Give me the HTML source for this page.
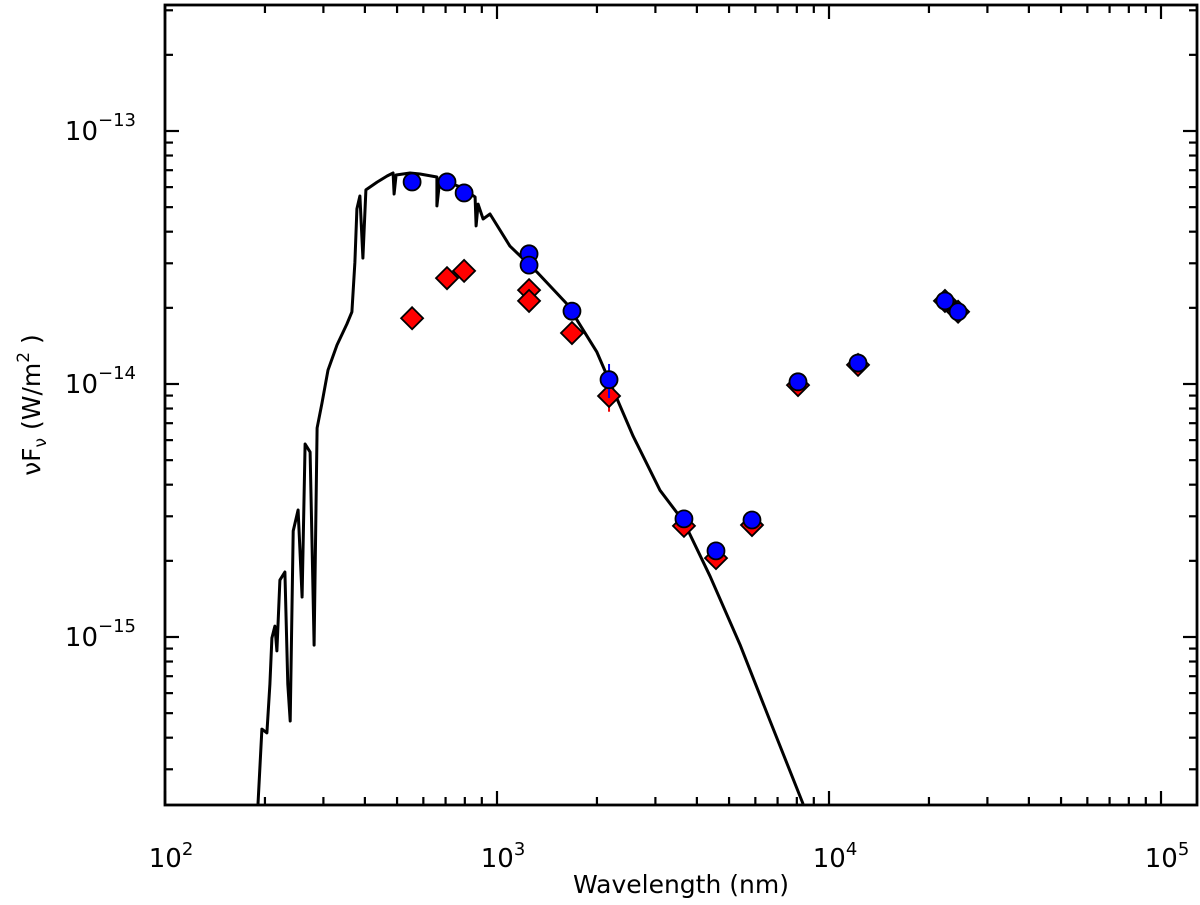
<!DOCTYPE html>
<html><head><meta charset="utf-8"><style>
html,body{margin:0;padding:0;background:#fff;}
svg{display:block;font-family:"DejaVu Sans","Liberation Sans",sans-serif;}
</style></head><body>
<svg id="chart" width="1200" height="905" viewBox="0 0 1200 905" xmlns="http://www.w3.org/2000/svg">
<g id="ticks"></g>
<g id="labels"></g>
<g id="model"></g>
<g id="red"></g>
<g id="blue"></g>
<rect x="165" y="5" width="1032" height="800" fill="none" stroke="#000" stroke-width="2.8"/>
<text x="681" y="893" font-size="25" text-anchor="middle">Wavelength (nm)</text>
<text transform="translate(40,405) rotate(-90)" font-size="25" text-anchor="middle">νF<tspan font-size="17" dy="6">ν</tspan><tspan dy="-6"> (W/m</tspan><tspan font-size="17" dy="-11">2</tspan><tspan dy="11"> )</tspan></text>
</svg>
<script>
// data
const modelLogWl = [2.280,2.292,2.307,2.316,2.322,2.331,2.337,2.346,2.361,2.370,2.377,2.386,2.401,2.413,2.422,2.437,2.443,2.449,2.458,2.473,2.491,2.518,2.548,2.563,2.572,2.578,2.587,2.596,2.605,2.639,2.669,2.687,2.690,2.696,2.738,2.768,2.819,2.819,2.828,2.889,2.934,2.937,2.943,2.958,2.979,3.039,3.120,3.211,3.301,3.410,3.491,3.563,3.642,3.732,3.822,3.922];
const modelLogFlux = [-15.660,-15.364,-15.379,-15.186,-15.004,-14.957,-15.055,-14.775,-14.743,-15.186,-15.332,-14.581,-14.498,-14.842,-14.237,-14.269,-14.644,-15.032,-14.174,-14.075,-13.945,-13.846,-13.763,-13.715,-13.518,-13.308,-13.257,-13.502,-13.233,-13.202,-13.178,-13.166,-13.249,-13.174,-13.166,-13.170,-13.182,-13.296,-13.190,-13.221,-13.261,-13.375,-13.289,-13.348,-13.328,-13.455,-13.557,-13.684,-13.874,-14.206,-14.420,-14.545,-14.760,-15.030,-15.330,-15.660];
const blueWl = [555,707,796,1249,1249,1682,2175,3657,4567,5862,8066,12230,22350,24480];
const blueFlux = [6.29e-14,6.29e-14,5.69e-14,3.27e-14,2.95e-14,1.94e-14,1.04e-14,2.93e-15,2.19e-15,2.90e-15,1.02e-14,1.21e-14,2.13e-14,1.93e-14];
const blueErr = [0,0,0,0,0,0,0.16e-14,0,0,0,0,0,0,0];
const redWl = [555,707,796,1249,1249,1682,2175,3657,4567,5862,8066,12230,22350,24480];
const redFlux = [1.82e-14,2.62e-14,2.80e-14,2.35e-14,2.13e-14,1.59e-14,8.97e-15,2.75e-15,2.05e-15,2.77e-15,9.9e-15,1.19e-14,2.13e-14,1.93e-14];
const redErr = [0,0,0,0,0,0,1.2e-15,0,0,0,0,0,0,0];
const xTickExp = [2,3,4,5];
const yTickExp = [-13,-14,-15];

const NS="http://www.w3.org/2000/svg";
const X0=165,X1=1197,Y0=5,Y1=805;
const xmin=2, xmax=2+(X1-165)/332;
const ytop=-13+(131-Y0)/253, ybot=-13-(Y1-131)/253;
function xl(l){return X0+(l-xmin)/(xmax-xmin)*(X1-X0);}
function yl(l){return Y0+(ytop-l)/(ytop-ybot)*(Y1-Y0);}
function xs(v){return xl(Math.log10(v));}
function ys(v){return yl(Math.log10(v));}
function mk(tag,attrs,parent){const e=document.createElementNS(NS,tag);for(const k in attrs)e.setAttribute(k,attrs[k]);parent.appendChild(e);return e;}

const tg=document.getElementById('ticks');
for(let d=2;d<=5;d++){for(let m=1;m<=9;m++){const l=d+Math.log10(m);if(l>xmax)continue;const x=xl(l);const len=m===1?14:8;
const t1=mk('line',{x1:x,x2:x,y1:Y1,y2:Y1-len,stroke:'#000','stroke-width':2.2},tg);


const t2=mk('line',{x1:x,x2:x,y1:Y0,y2:Y0+len,stroke:'#000','stroke-width':2.2},tg);

}}
for(let d=-16;d<=-13;d++){for(let m=1;m<=9;m++){const l=d+Math.log10(m);if(l>ytop||l<ybot)continue;const y=yl(l);const len=m===1?14:8;
const t1=mk('line',{x1:X0,x2:X0+len,y1:y,y2:y,stroke:'#000','stroke-width':2.2},tg);


const t2=mk('line',{x1:X1,x2:X1-len,y1:y,y2:y,stroke:'#000','stroke-width':2.2},tg);

}}
const lg=document.getElementById('labels');
xTickExp.forEach(e=>{const x=xl(e);const t=mk('text',{x:x+6,y:867,'font-size':26,'text-anchor':'middle'},lg);


t.innerHTML='10<tspan font-size="18" dy="-12">'+e+'</tspan>';});
yTickExp.forEach(e=>{const y=yl(e);const t=mk('text',{x:136,y:y+9,'font-size':26,'text-anchor':'end'},lg);


t.innerHTML='10<tspan font-size="18" dy="-14">\u2212'+(-e)+'</tspan>';});
let d='';modelLogWl.forEach((l,i)=>{d+=(i?'L':'M')+xl(l).toFixed(1)+','+yl(modelLogFlux[i]).toFixed(1);});
const mp=mk('path',{d:d,fill:'none',stroke:'#000','stroke-width':3,'stroke-linejoin':'round'},document.getElementById('model'));


const rg=document.getElementById('red');
redWl.forEach((w,i)=>{const x=xs(w),y=ys(redFlux[i]);
if(redErr[i]>0){const e=mk('line',{x1:x,x2:x,y1:ys(redFlux[i]+redErr[i]),y2:ys(redFlux[i]-redErr[i]),stroke:'#e00','stroke-width':2},rg);

}
const p=mk('polygon',{points:`${x},${y-11} ${x+11},${y} ${x},${y+11} ${x-11},${y}`,fill:'#f00',stroke:'#000','stroke-width':1.8},rg);

});
const bg=document.getElementById('blue');
blueWl.forEach((w,i)=>{const x=xs(w),y=ys(blueFlux[i]);
if(blueErr[i]>0){const e=mk('line',{x1:x,x2:x,y1:ys(blueFlux[i]+blueErr[i]),y2:ys(blueFlux[i]-blueErr[i]),stroke:'#00f','stroke-width':2},bg);

}
const c=mk('circle',{cx:x,cy:y,r:8.5,fill:'#00f',stroke:'#000','stroke-width':1.8},bg);

});
</script>
</body></html>
